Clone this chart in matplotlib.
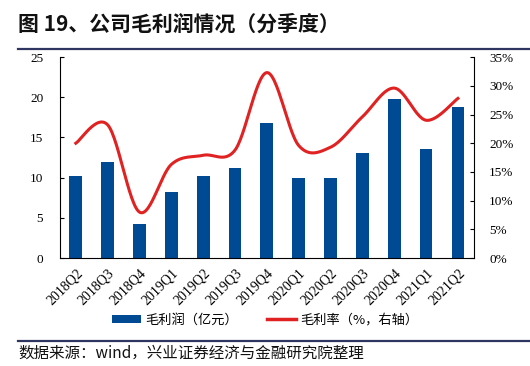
import matplotlib
matplotlib.use("Agg")
import matplotlib.pyplot as plt
from matplotlib.lines import Line2D
from matplotlib.patches import Patch
import numpy as np

plt.rcParams['font.family'] = ['Noto Sans CJK SC', 'DejaVu Sans']

quarters = ['2018Q2', '2018Q3', '2018Q4', '2019Q1', '2019Q2', '2019Q3', '2019Q4',
            '2020Q1', '2020Q2', '2020Q3', '2020Q4', '2021Q1', '2021Q2']
gross_profit = [10.2, 11.9, 4.2, 8.2, 10.2, 11.2, 16.8, 9.9, 10.0, 13.1, 19.8, 13.6, 18.8]
gross_margin = [20.0, 23.2, 8.0, 16.3, 17.9, 18.8, 32.3, 19.6, 19.3, 24.6, 29.6, 24.0, 27.8]

BLUE = '#004a94'
RED = '#e02222'
NAVY = '#2e3560'
serif = 'Liberation Serif'


def smooth(xs, ys, n=30):
    # catmull-rom style smoothing like excel's smoothed line
    xs = np.asarray(xs, float)
    ys = np.asarray(ys, float)
    pts = np.column_stack([xs, ys])
    out = [pts[0]]
    for i in range(len(pts) - 1):
        p0 = pts[max(i - 1, 0)]
        p1 = pts[i]
        p2 = pts[i + 1]
        p3 = pts[min(i + 2, len(pts) - 1)]
        c1 = p1 + (p2 - p0) / 6
        c2 = p2 - (p3 - p1) / 6
        t = np.linspace(0, 1, n)[1:, None]
        seg = ((1 - t) ** 3) * p1 + 3 * ((1 - t) ** 2) * t * c1 + 3 * (1 - t) * t ** 2 * c2 + t ** 3 * p2
        out.extend(seg)
    out = np.array(out)
    return out[:, 0], out[:, 1]


fig = plt.figure(figsize=(5.3, 3.66), dpi=100)

fig.text(0.034, 0.935, '图 19、公司毛利润情况（分季度）', fontsize=15, fontweight='bold',
         color='#111111', ha='left', va='center')
fig.add_artist(Line2D([0.034, 1.0], [0.866, 0.866], color=NAVY, lw=1.6))
fig.add_artist(Line2D([0.034, 1.0], [0.068, 0.068], color=NAVY, lw=1.6))
fig.text(0.034, 0.035, '数据来源：wind，兴业证券经济与金融研究院整理', fontsize=11.2,
         color='#111111', ha='left', va='center')

ax1 = fig.add_axes([0.113, 0.295, 0.781, 0.549])
x = np.arange(len(quarters))
ax1.bar(x, gross_profit, width=0.4, color=BLUE, zorder=2)
ax1.set_ylim(0, 25)
ax1.set_yticks(range(0, 26, 5))
ax1.set_xlim(-0.5, len(quarters) - 0.5)
ax1.set_xticks(x)
ax1.set_xticklabels(quarters, rotation=45, ha='right', rotation_mode='anchor',
                    fontsize=10, family=serif)
ax1.tick_params(axis='x', length=0, pad=6)
ax1.tick_params(axis='y', direction='in', length=3, labelsize=9.5, pad=12)
for lab in ax1.get_yticklabels():
    lab.set_family(serif)
ax1.spines['top'].set_visible(False)
ax1.spines['right'].set_visible(False)

ax2 = ax1.twinx()
sx, sy = smooth(x, gross_margin)
ax2.plot(sx, sy, color=RED, lw=2.2, zorder=3)
ax2.set_ylim(0, 35)
ax2.set_yticks(range(0, 36, 5))
ax2.set_yticklabels([f'{v}%' for v in range(0, 36, 5)], family=serif, fontsize=9.5)
ax2.tick_params(axis='y', direction='in', length=3, pad=11)
ax2.spines['top'].set_visible(False)
ax2.spines['left'].set_visible(False)
ax2.spines['bottom'].set_visible(False)

handles = [Patch(facecolor=BLUE, edgecolor='none'),
           Line2D([0], [0], color=RED, lw=2.5)]
fig.legend(handles, ['毛利润（亿元）', '毛利率（%，右轴）'], loc='center',
           bbox_to_anchor=(0.5, 0.125), ncol=2, frameon=False, fontsize=9.5,
           handlelength=2.2, handleheight=0.6, columnspacing=2.2, handletextpad=0.3)

fig.savefig('out.png', dpi=100)
